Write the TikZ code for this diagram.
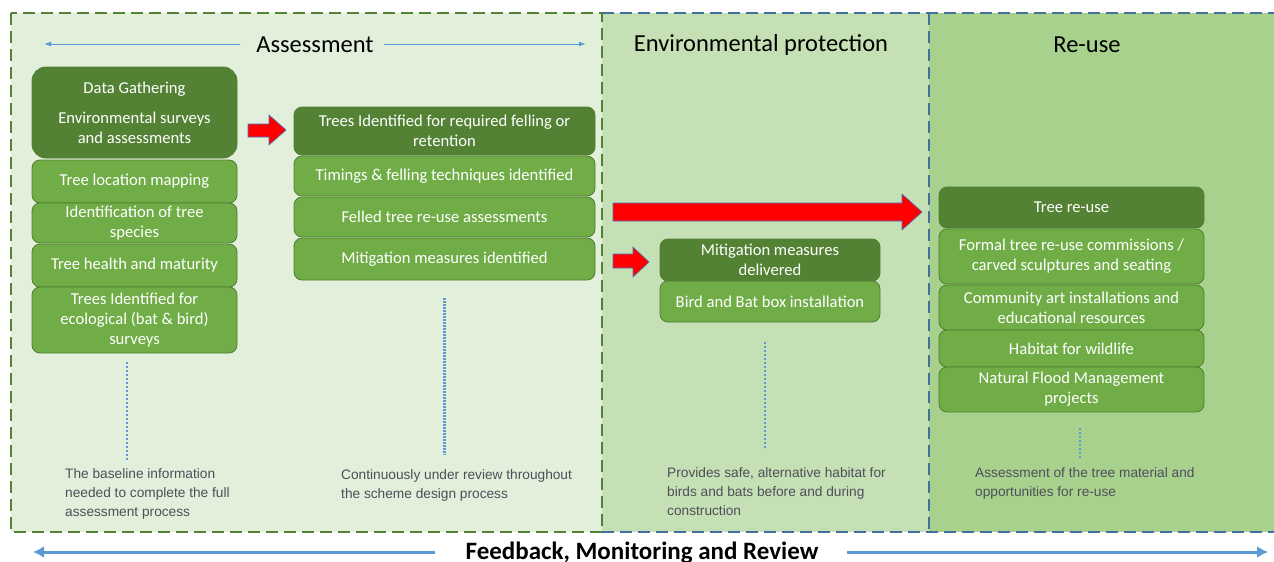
\documentclass[tikz,border=0pt]{standalone}
\usepackage{fontspec}
\setmainfont{Carlito}
\newfontfamily\notefont{Liberation Sans}
\usetikzlibrary{arrows.meta}
\definecolor{pA}{HTML}{E2EFDA}
\definecolor{pB}{HTML}{C5E0B4}
\definecolor{pC}{HTML}{A9D18E}
\definecolor{dkbox}{HTML}{548235}
\definecolor{ltbox}{HTML}{70AD47}
\definecolor{bxline}{HTML}{507E32}
\definecolor{dashgreen}{HTML}{548235}
\definecolor{dashblue}{HTML}{41719C}
\definecolor{lineblue}{HTML}{5B9BD5}
\definecolor{notegray}{HTML}{4D4F5A}
\definecolor{redarrow}{HTML}{FF0000}
\definecolor{redline}{HTML}{4472C4}
\tikzset{
  box/.style={draw=bxline, line width=0.8pt, rounded corners=8pt, text=white, align=center,
    font=\fontsize{16.6}{20}\selectfont, inner sep=1pt},
  dbox/.style={box, fill=dkbox},
  lbox/.style={box, fill=ltbox},
  note/.style={anchor=north west, align=left, inner sep=0pt, text=notegray,
    font=\notefont\fontsize{13.7}{19}\selectfont},
  title/.style={font=\fontsize{24.5}{26}\selectfont, text=black, inner sep=1pt},
  vdot/.style={lineblue, line width=2pt, dotted},
  redarr/.style={fill=redarrow, draw=redline, line width=0.6pt, line join=miter},
  thinarr/.style={lineblue, line width=1pt, -{Latex[length=7pt,width=5pt]}},
  thickarr/.style={lineblue, line width=3pt, -{Latex[length=11pt,width=12pt]}}
}
\begin{document}
\begin{tikzpicture}[x=1pt,y=-1pt]
\useasboundingbox (0,0) rectangle (1274,562);
% panels
\fill[pA] (11,13) rectangle (602,532);
\fill[pB] (602,13) rectangle (929,532);
\fill[pC] (929,13) rectangle (1274,532);
\draw[dashblue, line width=2.5pt, dash pattern=on 12pt off 6pt] (602,13) -- (1280,13);
\draw[dashblue, line width=2.5pt, dash pattern=on 12pt off 6pt] (602,532) -- (1280,532);
\draw[dashblue, line width=2pt, dash pattern=on 12pt off 6pt] (929,13) -- (929,532);
\draw[dashgreen, line width=2.5pt, dash pattern=on 12pt off 6pt] (11,13) rectangle (602,532);

% titles
\node[title] (tA) at (315,45) {Assessment};
\node[title] (tB) at (761,45) {Environmental protection};
\node[title] (tC) at (1087,45) {Re-use};
\coordinate (aL) at (44,44);
\coordinate (aR) at (586,44);
\coordinate (aLs) at (240,44);
\coordinate (aRs) at (384,44);
\draw[thinarr] (aLs) -- (aL);
\draw[thinarr] (aRs) -- (aR);

% column 1
\node[dbox, rounded corners=14pt, minimum width=205pt, minimum height=91pt] (dg) at (134.5,112.5)
  {Data Gathering\\[10pt]Environmental surveys\\and assessments};
\node[lbox, minimum width=205pt, minimum height=43pt] (c1a) at (134.5,181.5) {Tree location mapping};
\node[lbox, minimum width=205pt, minimum height=40pt] (c1b) at (134.5,223) {Identification of tree\\species};
\node[lbox, minimum width=205pt, minimum height=43pt] (c1c) at (134.5,265.5) {Tree health and maturity};
\node[lbox, minimum width=205pt, minimum height=66pt] (c1d) at (134.5,320) {Trees Identified for\\ecological (bat \& bird)\\surveys};

% column 2
\node[dbox, minimum width=301pt, minimum height=48pt] (c2a) at (444.5,131) {Trees Identified for required felling or\\retention};
\node[lbox, minimum width=301pt, minimum height=40pt] (c2b) at (444.5,176) {Timings \& felling techniques identified};
\node[lbox, minimum width=301pt, minimum height=40pt] (c2c) at (444.5,217) {Felled tree re-use assessments};
\node[lbox, minimum width=301pt, minimum height=42pt] (c2d) at (444.5,259) {Mitigation measures identified};

% column 3
\node[dbox, minimum width=220pt, minimum height=42pt] (c3a) at (770,260) {Mitigation measures\\delivered};
\node[lbox, minimum width=220pt, minimum height=41pt] (c3b) at (770,301.5) {Bird and Bat box installation};

% column 4
\node[dbox, minimum width=265pt, minimum height=41pt] (c4a) at (1071.5,207.5) {Tree re-use};
\node[lbox, minimum width=265pt, minimum height=55pt] (c4b) at (1071.5,256.5) {Formal tree re-use commissions /\\carved sculptures and seating};
\node[lbox, minimum width=265pt, minimum height=45pt] (c4c) at (1071.5,307.5) {Community art installations and\\educational resources};
\node[lbox, minimum width=265pt, minimum height=37pt] (c4d) at (1071.5,348.5) {Habitat for wildlife};
\node[lbox, minimum width=265pt, minimum height=45pt] (c4e) at (1071.5,389.5) {Natural Flood Management\\projects};

% red block arrows
\draw[redarr] (248,124) -- (269,124) -- (269,115) -- (286,130) -- (269,145) -- (269,137) -- (248,137) -- cycle;
\draw[redarr] (613,203) -- (902,203) -- (902,194) -- (922,212) -- (902,230) -- (902,221) -- (613,221) -- cycle;
\draw[redarr] (613,254) -- (633,254) -- (633,247) -- (649,262) -- (633,277) -- (633,268) -- (613,268) -- cycle;

% dotted lines
\draw[vdot] (127,362) -- (127,460);
\draw[lineblue, line width=3pt, dash pattern=on 1.5pt off 1.5pt] (444,298) -- (444,455);
\draw[vdot] (765,342) -- (765,450);
\draw[vdot] (1080,428) -- (1080,458);

% notes
\node[note] (n1) at (65,468) {The baseline information\\needed to complete the full\\assessment process};
\node[note] (n2) at (341,469) {Continuously under review throughout\\the scheme design process};
\node[note] (n3) at (667,467) {Provides safe, alternative habitat for\\birds and bats before and during\\construction};
\node[note] (n4) at (975,467) {Assessment of the tree material and\\opportunities for re-use};

% bottom
\node[font=\bfseries\fontsize{25}{27}\selectfont, anchor=base, inner sep=0pt] (fb) at (642,559) {Feedback, Monitoring and Review};
\coordinate (fL) at (33,552);
\coordinate (fR) at (1268,552);
\coordinate (fLs) at (435,552);
\coordinate (fRs) at (847,552);
\draw[thickarr] (fLs) -- (fL);
\draw[thickarr] (fRs) -- (fR);
\end{tikzpicture}
\end{document}
